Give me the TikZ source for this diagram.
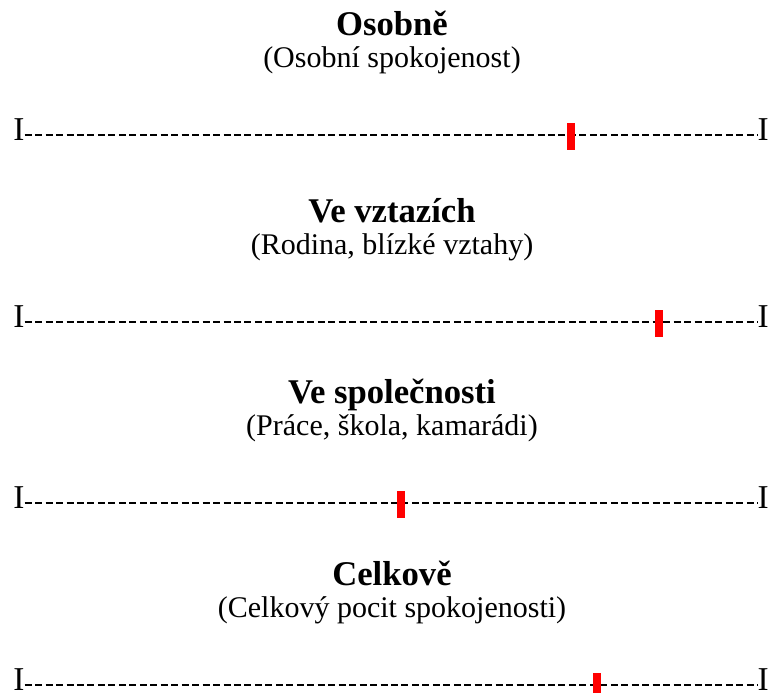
\documentclass[tikz,border=0pt]{standalone}
\usepackage{fontspec}
\setmainfont{Liberation Serif}
\begin{document}
\begin{tikzpicture}[x=0.75pt, y=-0.75pt,
	heading/.style={font=\fontsize{26}{30}\selectfont\bfseries, anchor=base, inner sep=0pt},
	subheading/.style={font=\fontsize{22.5}{26}\selectfont, anchor=base, inner sep=0pt},
	endmark/.style={font=\fontsize{25}{30}\selectfont, inner sep=0pt},
	scaleline/.style={line width=1.8pt, dash pattern=on 5.25pt off 2.6pt},
	redbar/.style={fill=red, draw=none}]
	\clip (0,0) rectangle (769,693);
	
	\foreach \i/\y/\t/\head/\sub in {1/135/571/Osobně/{(Osobní spokojenost)}, 2/322/659/Ve vztazích/{(Rodina, blízké vztahy)}, 3/503/400.5/Ve společnosti/{(Práce, škola, kamarádi)}, 4/685/597/Celkově/{(Celkový pocit spokojenosti)}}
	{
		\node[heading] (H\i) at (392, \y - 100) {\head};
		\node[subheading] (S\i) at (392, \y - 68) {\sub};
		\node[endmark, anchor=base west] (L\i) at (13, \y + 5.5) {I};
		\node[endmark, anchor=base east] (R\i) at (769, \y + 5.5) {I};
		\draw[scaleline] (L\i.east |- 0,\y) -- (R\i.west |- 0,\y);
		\path[redbar] (\t - 4, \y - 12) rectangle (\t + 4, \y + 15);
	}
\end{tikzpicture}
\end{document}
